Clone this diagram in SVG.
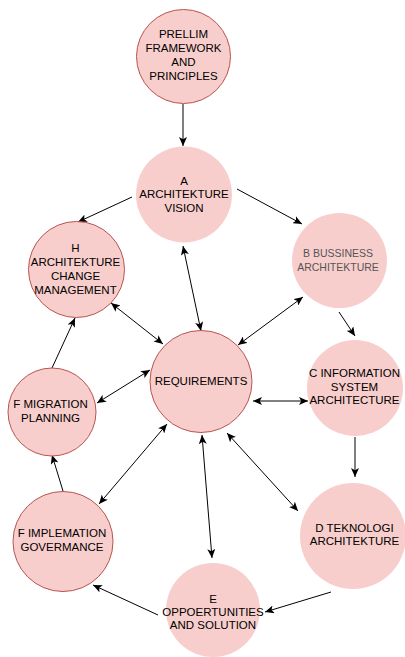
<svg xmlns="http://www.w3.org/2000/svg" width="405" height="657" viewBox="0 0 405 657">
<style>
.n{fill:#f8cecc}
.b{stroke:#b85450;stroke-width:1}
.t{font-family:"Liberation Sans",Arial,sans-serif;font-size:11.5px;fill:#000;text-anchor:middle;dominant-baseline:central}
.g{font-size:10.5px;fill:#555}
.e{fill:none;stroke:#000;stroke-width:1}
</style>
<defs>
<marker id="ar" viewBox="0 0 9 8" refX="9" refY="4" markerWidth="9" markerHeight="8" markerUnits="userSpaceOnUse" orient="auto-start-reverse">
<path d="M0,0 L9,4 L0,8 L2.2,4 z" fill="#000"/>
</marker>
</defs>
<rect width="405" height="657" fill="#fff"/>
<g id="connectors">
<path class="e" d="M183,104 L183,146" marker-end="url(#ar)"/>
<path class="e" d="M132,197 L78,222" marker-end="url(#ar)"/>
<path class="e" d="M237,189 L302,224" marker-end="url(#ar)"/>
<path class="e" d="M183,246 L201,331" marker-start="url(#ar)" marker-end="url(#ar)"/>
<path class="e" d="M111,303 L163,344" marker-start="url(#ar)" marker-end="url(#ar)"/>
<path class="e" d="M52,368 L75,318" marker-end="url(#ar)"/>
<path class="e" d="M97,403 L150,370" marker-start="url(#ar)" marker-end="url(#ar)"/>
<path class="e" d="M303,297 L238,345" marker-start="url(#ar)" marker-end="url(#ar)"/>
<path class="e" d="M339,312 L355,336" marker-end="url(#ar)"/>
<path class="e" d="M253,401 L308,401" marker-start="url(#ar)" marker-end="url(#ar)"/>
<path class="e" d="M355,437 L355,477" marker-end="url(#ar)"/>
<path class="e" d="M227,433 L298,511" marker-start="url(#ar)" marker-end="url(#ar)"/>
<path class="e" d="M202,435 L212,558" marker-start="url(#ar)" marker-end="url(#ar)"/>
<path class="e" d="M167,424 L99,504" marker-start="url(#ar)" marker-end="url(#ar)"/>
<path class="e" d="M63,491 L52,455" marker-end="url(#ar)"/>
<path class="e" d="M331,592 L265,612" marker-end="url(#ar)"/>
<path class="e" d="M158,615 L93,585" marker-end="url(#ar)"/>
</g>
<g id="prelim">
<circle class="n b" cx="183.5" cy="56.5" r="47"/>
<text class="t" x="183.5" y="34">PRELLIM</text>
<text class="t" x="183.5" y="48">FRAMEWORK</text>
<text class="t" x="183.5" y="62">AND</text>
<text class="t" x="183.5" y="76">PRINCIPLES</text>
</g>
<g id="a">
<circle class="n" cx="184" cy="194.5" r="48"/>
<text class="t" x="184" y="181">A</text>
<text class="t" x="184" y="194">ARCHITEKTURE</text>
<text class="t" x="184" y="208">VISION</text>
</g>
<g id="h">
<circle class="n b" cx="76.5" cy="269.5" r="48"/>
<text class="t" x="75.5" y="248">H</text>
<text class="t" x="75.5" y="262">ARCHITEKTURE</text>
<text class="t" x="75.5" y="276">CHANGE</text>
<text class="t" x="75.5" y="290">MANAGEMENT</text>
</g>
<g id="b">
<circle class="n" cx="339.5" cy="260.5" r="47.5"/>
<text class="t g" x="338" y="253">B BUSSINESS</text>
<text class="t g" x="338" y="267">ARCHITEKTURE</text>
</g>
<g id="req">
<circle class="n b" cx="201" cy="381.5" r="51"/>
<text class="t" x="201" y="381">REQUIREMENTS</text>
</g>
<g id="fmig">
<circle class="n b" cx="52" cy="412" r="44"/>
<text class="t" x="50.5" y="404">F MIGRATION</text>
<text class="t" x="50.5" y="418">PLANNING</text>
</g>
<g id="c">
<circle class="n" cx="355" cy="388" r="48"/>
<text class="t" x="354.5" y="373">C INFORMATION</text>
<text class="t" x="354.5" y="387">SYSTEM</text>
<text class="t" x="354.5" y="400">ARCHITECTURE</text>
</g>
<g id="fimpl">
<circle class="n b" cx="63" cy="541.5" r="50"/>
<text class="t" x="62" y="533">F IMPLEMATION</text>
<text class="t" x="62" y="547">GOVERMANCE</text>
</g>
<g id="d">
<circle class="n" cx="353" cy="536" r="53"/>
<text class="t" x="354.5" y="528">D TEKNOLOGI</text>
<text class="t" x="354.5" y="541">ARCHITEKTURE</text>
</g>
<g id="e">
<circle class="n" cx="213" cy="610" r="47"/>
<text class="t" x="213" y="599">E</text>
<text class="t" x="213" y="612">OPPOERTUNITIES</text>
<text class="t" x="213" y="625">AND SOLUTION</text>
</g>
</svg>
